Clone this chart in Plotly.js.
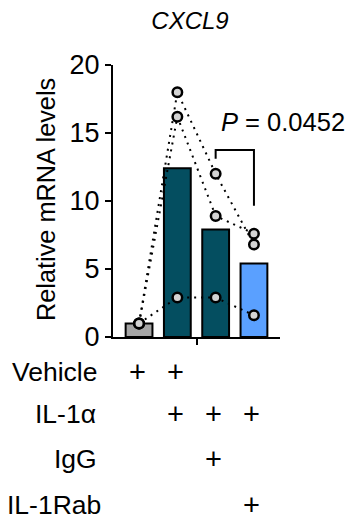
<!DOCTYPE html>
<html>
<head>
<meta charset="utf-8">
<script src="https://cdn.plot.ly/plotly-3.0.1.min.js"></script>
<style>html,body{margin:0;padding:0;background:#fff;}#chart{width:350px;height:522px;}</style>
</head>
<body>
<div id="chart"></div>
<script>
// ---- data ----
const groups = [0, 1, 2, 3];
const barMeans = [1.0, 12.4, 7.9, 5.4];
const barColors = ['#a6a6a6', '#044e60', '#044e60', '#5aa0ff'];
const subjectA = [1.0, 18.0, 12.0, 6.8];
const subjectB = [1.0, 16.2, 8.9, 7.6];
const subjectC = [1.0, 2.9, 2.9, 1.6];
const yTicks = [0, 5, 10, 15, 20];
const pText = '<i>P</i> = 0.0452';
const bracketX = [2, 3];
const bracketY = [13.1, 13.75, 9.65];
const rowLabels = ['Vehicle', 'IL-1α', 'IgG', 'IL-1Rab'];
const rowMarks = [
  [1, 1, 0, 0],
  [0, 1, 1, 1],
  [0, 0, 1, 0],
  [0, 0, 0, 1]
];

const FONT = 'Liberation Sans, Arial, sans-serif';
const subjects = [subjectA, subjectB, subjectC];

const traces = [];
traces.push({
  type: 'bar', x: groups, y: barMeans, width: 0.7,
  marker: {color: barColors, line: {color: '#000', width: 2}},
  hoverinfo: 'skip', showlegend: false
});
subjects.forEach(s => traces.push({
  type: 'scatter', mode: 'lines', x: groups, y: s,
  line: {color: '#000', width: 2, dash: '2px,5px'},
  showlegend: false, hoverinfo: 'skip', cliponaxis: false
}));
subjects.forEach(s => traces.push({
  type: 'scatter', mode: 'markers', x: groups, y: s,
  marker: {size: 9.5, color: '#d3d3d3', line: {color: '#000', width: 2.5}},
  showlegend: false, hoverinfo: 'skip', cliponaxis: false
}));

const L = 113, R = 280, T = 65, B = 337;
const px2paperX = p => (p - L) / (R - L);
const px2paperY = p => (B - p) / (B - T);

const annotations = [];
annotations.push({
  text: 'Relative mRNA levels', textangle: -90, showarrow: false,
  xref: 'paper', yref: 'paper', x: px2paperX(46), y: px2paperY(200),
  xanchor: 'center', yanchor: 'middle', font: {family: FONT, size: 25.3, color: '#000'}
});
annotations.push({
  text: pText, showarrow: false, xref: 'paper', yref: 'paper',
  x: px2paperX(219), y: px2paperY(122), xanchor: 'left', yanchor: 'middle',
  font: {family: FONT, size: 25.5, color: '#000'}
});
const rowY = [372, 414, 459, 505];
const rowRight = [99, 98, 99, 103];
rowLabels.forEach((lab, i) => {
  annotations.push({
    text: lab, showarrow: false, xref: 'paper', yref: 'paper',
    x: px2paperX(rowRight[i]), y: px2paperY(rowY[i]), xanchor: 'right', yanchor: 'middle',
    font: {family: FONT, size: 26.5, color: '#000'}
  });
  rowMarks[i].forEach((m, j) => {
    if (m) annotations.push({
      text: '+', showarrow: false, xref: 'x', yref: 'paper',
      x: groups[j], xshift: -2, y: px2paperY(rowY[i]), xanchor: 'center', yanchor: 'middle',
      font: {family: FONT, size: 29, color: '#000'}
    });
  });
});

const shapes = [{
  type: 'path', xref: 'x', yref: 'y',
  path: `M ${bracketX[0]},${bracketY[0]} L ${bracketX[0]},${bracketY[1]} L ${bracketX[1]},${bracketY[1]} L ${bracketX[1]},${bracketY[2]}`,
  line: {color: '#000', width: 2}
}];

const layout = {
  width: 350, height: 522,
  margin: {l: L, r: 350 - R, t: T, b: 522 - B, pad: 0},
  paper_bgcolor: '#fff', plot_bgcolor: '#fff',
  font: {family: FONT, color: '#000'},
  title: {
    text: '<i>CXCL9</i>', xref: 'container', yref: 'container',
    x: 190 / 350, xanchor: 'center', y: 1 - 20.5 / 522, yanchor: 'middle',
    font: {family: FONT, size: 24, color: '#000'}
  },
  xaxis: {
    range: [-0.68, 3.68], tickvals: [1.5], ticktext: [''],
    ticks: 'outside', ticklen: 6, tickwidth: 2, tickcolor: '#000',
    showline: true, linewidth: 2, linecolor: '#000',
    showgrid: false, zeroline: false, fixedrange: true
  },
  yaxis: {
    range: [0, 20], tickvals: yTicks, ticktext: yTicks.map(String),
    ticks: 'outside', ticklen: 6, tickwidth: 2, tickcolor: '#000',
    showline: true, linewidth: 2, linecolor: '#000',
    showgrid: false, zeroline: false, fixedrange: true,
    tickfont: {family: FONT, size: 27, color: '#000'}
  },
  bargap: 0.3,
  shapes: shapes,
  annotations: annotations,
  showlegend: false
};

Plotly.newPlot('chart', traces, layout, {displayModeBar: false, staticPlot: true});
</script>
</body>
</html>
